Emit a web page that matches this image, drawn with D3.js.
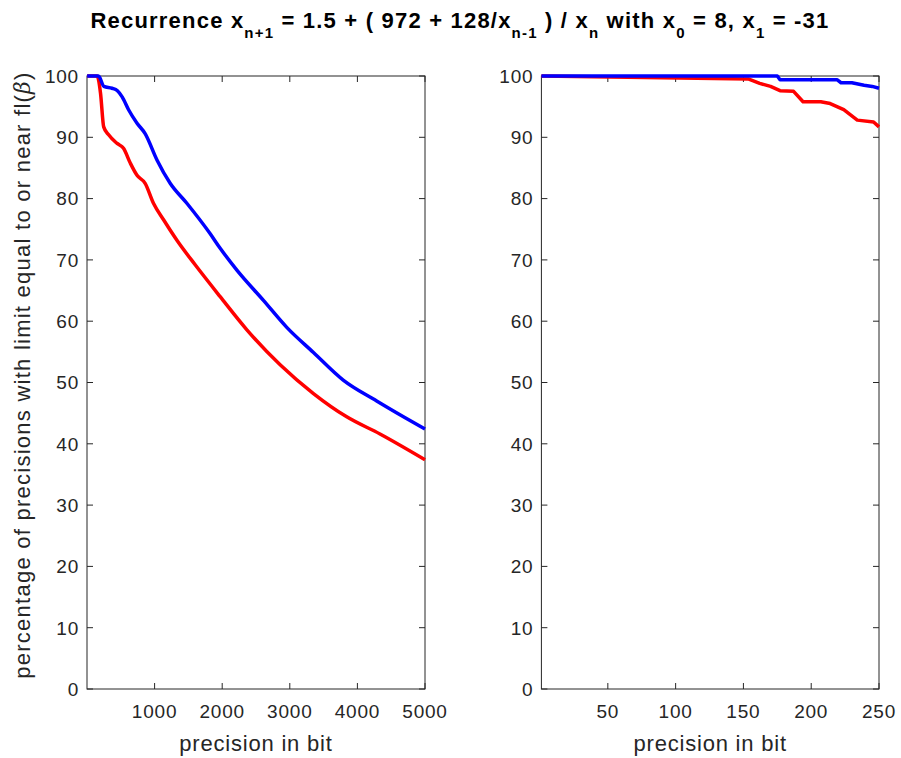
<!DOCTYPE html>
<html><head><meta charset="utf-8">
<script src="https://cdn.jsdelivr.net/npm/d3@7"></script>
<style>
body{margin:0;background:#fff;}
text{font-family:"Liberation Sans",Arial,sans-serif;}
</style></head>
<body>
<svg id="c" width="901" height="758"></svg>
<script>
// ---- data ----
const leftBlueX = [2,170,250,370,450,520,615,740,860,1035,1230,1480,1820,1970,2220,2610,2955,3350,3790,4285,4700,5000];
const leftBlueY = [100,100,98.3,98,97.6,96.6,94.5,92.3,90.6,86.3,82.5,79.2,74.3,71.9,68.3,63.4,59.0,54.9,50.4,47.0,44.3,42.4];
const leftRedX  = [2,150,200,247,320,445,540,640,740,860,985,1135,1330,1600,1970,2365,2857,3350,3842,4334,5000];
const leftRedY  = [100,100,97.2,91.7,90.4,89,88.2,85.8,83.8,82.5,79.2,76.5,73.2,69.2,64.0,58.6,52.9,48.2,44.4,41.6,37.4];
const rightBlueX = [1,175,177,219,222,230,239,245,250];
const rightBlueY = [100,100,99.4,99.4,98.9,98.9,98.5,98.3,98.0];
const rightRedX  = [1,154,162,170,177,187,194,207,214,224,234,246,250];
const rightRedY  = [100,99.5,98.8,98.3,97.6,97.5,95.8,95.8,95.5,94.5,92.8,92.5,91.7];
const yTicks = [0,10,20,30,40,50,60,70,80,90,100];
const leftXTicks = [1000,2000,3000,4000,5000];
const rightXTicks = [50,100,150,200,250];
const titleParts = [["Recurrence x",""],["n+1","sub"],[" = 1.5 + ( 972 + 128/x",""],["n-1","sub"],[" ) / x",""],["n","sub"],[" with x",""],["0","sub"],[" = 8, x",""],["1","sub"],[" = -31",""]];

const svg = d3.select("#c");
const axisCol = "#262626";
const fs = 19, ls = 0.8, lfs = 22;

function panel(x0, x1, domX, ticksX, bx, by, rx, ry, curve) {
  const x = d3.scaleLinear().domain(domX).range([x0, x1]);
  const y = d3.scaleLinear().domain([0,100]).range([689, 76]);
  const g = svg.append("g");
  const tl = 6;
  g.append("rect").attr("x", x0).attr("y", 76).attr("width", x1-x0).attr("height", 689-76)
    .attr("fill","none").attr("stroke", axisCol).attr("stroke-width",1);
  ticksX.forEach(t => {
    g.append("line").attr("x1",x(t)).attr("x2",x(t)).attr("y1",689).attr("y2",689-tl).attr("stroke",axisCol);
    g.append("line").attr("x1",x(t)).attr("x2",x(t)).attr("y1",76).attr("y2",76+tl).attr("stroke",axisCol);
    g.append("text").attr("x",x(t)).attr("y",718).attr("text-anchor","middle")
      .attr("font-size",fs).attr("letter-spacing",ls).attr("fill",axisCol).text(t);
  });
  yTicks.forEach(t => {
    g.append("line").attr("x1",x0).attr("x2",x0+tl).attr("y1",y(t)).attr("y2",y(t)).attr("stroke",axisCol);
    g.append("line").attr("x1",x1).attr("x2",x1-tl).attr("y1",y(t)).attr("y2",y(t)).attr("stroke",axisCol);
    g.append("text").attr("x",x0-8).attr("y",y(t)).attr("dy","0.36em").attr("text-anchor","end")
      .attr("font-size",fs).attr("letter-spacing",ls).attr("fill",axisCol).text(t);
  });
  g.append("text").attr("x",(x0+x1)/2).attr("y",751).attr("text-anchor","middle")
    .attr("font-size",lfs).attr("letter-spacing",0.8).attr("fill",axisCol).text("precision in bit");
  const line = d3.line().x(d=>x(d[0])).y(d=>y(d[1])).curve(curve);
  g.append("path").datum(d3.zip(rx, ry)).attr("d", line).attr("fill","none")
    .attr("stroke","#ff0000").attr("stroke-width",3.5).attr("stroke-linejoin","round");
  g.append("path").datum(d3.zip(bx, by)).attr("d", line).attr("fill","none")
    .attr("stroke","#0000ff").attr("stroke-width",3.5).attr("stroke-linejoin","round");
}

panel(87, 425, [0,5000], leftXTicks, leftBlueX, leftBlueY, leftRedX, leftRedY, d3.curveMonotoneX);
panel(541.4, 879, [1,250], rightXTicks, rightBlueX, rightBlueY, rightRedX, rightRedY, d3.curveLinear);

// y label
const yl = svg.append("text").attr("transform","translate(30,375) rotate(-90)")
  .attr("text-anchor","middle").attr("font-size",lfs).attr("letter-spacing",1.25).attr("fill",axisCol);
yl.append("tspan").text("percentage of precisions with limit equal to or near fl(");
yl.append("tspan").attr("font-style","italic").attr("font-family","'DejaVu Serif',serif").text("β");
yl.append("tspan").text(")");

// title
const tt = svg.append("text").attr("x",460).attr("y",28).attr("text-anchor","middle")
  .attr("font-size",22).attr("font-weight","bold").attr("letter-spacing",1.2).attr("fill","#000");
let pendingUp = false;
titleParts.forEach(p => {
  if (p[1]==="sub") {
    tt.append("tspan").attr("dy",10).attr("font-size",15).text(p[0]);
    pendingUp = true;
  } else {
    const s = tt.append("tspan").text(p[0]);
    if (pendingUp) { s.attr("dy",-10); pendingUp = false; }
  }
});
</script>
</body></html>
